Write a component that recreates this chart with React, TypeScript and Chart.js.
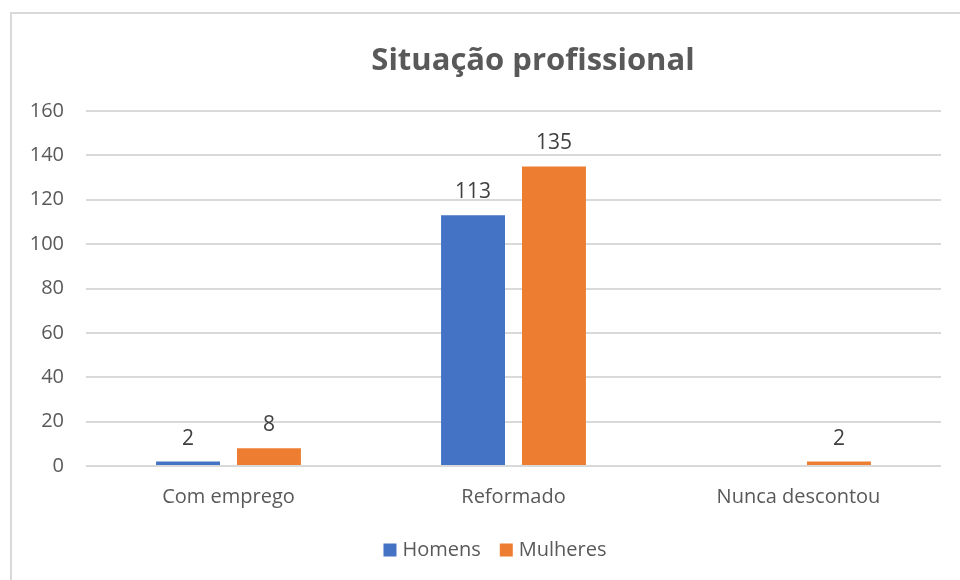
import React, { useEffect, useRef } from "react";
import { Chart, registerables } from "chart.js";

Chart.register(...registerables);

const categories = ["Com emprego", "Reformado", "Nunca descontou"];
const homens: (number | null)[] = [2, 113, null];
const mulheres: (number | null)[] = [8, 135, 2];
const seriesNames = ["Homens", "Mulheres"];
const seriesColors = ["#4472C4", "#ED7D31"];
const chartTitle = "Situação profissional";
const yMin = 0;
const yMax = 160;
const yStep = 20;

const FONT = "'Open Sans', 'Noto Sans', sans-serif";
const TEXT = "#595959";

const framePlugin = {
  id: "frame",
  beforeDraw(chart: any) {
    const ctx = chart.ctx;
    ctx.save();
    ctx.fillStyle = "#ffffff";
    ctx.fillRect(0, 0, chart.width, chart.height);
    ctx.strokeStyle = "#d9d9d9";
    ctx.lineWidth = 2;
    ctx.strokeRect(11, 13, chart.width + 20, chart.height + 20);
    ctx.font = `bold 31px ${FONT}`;
    ctx.fillStyle = TEXT;
    ctx.textAlign = "center";
    ctx.textBaseline = "alphabetic";
    ctx.fillText(chartTitle, 533, 70);
    ctx.restore();
  },
};

const legendPlugin = {
  id: "customLegend",
  afterDraw(chart: any) {
    const ctx = chart.ctx;
    ctx.save();
    ctx.font = `20px ${FONT}`;
    ctx.textBaseline = "middle";
    ctx.textAlign = "left";
    const box = 13;
    const gap = 6;
    const spacing = 19;
    const widths = chart.data.datasets.map(
      (ds: any) => box + gap + ctx.measureText(ds.label).width
    );
    const total =
      widths.reduce((a: number, b: number) => a + b, 0) + spacing * (widths.length - 1);
    let x = 495 - total / 2;
    const cy = 550;
    chart.data.datasets.forEach((ds: any, i: number) => {
      ctx.fillStyle = ds.backgroundColor;
      ctx.fillRect(x, cy - box / 2, box, box);
      ctx.fillStyle = TEXT;
      ctx.fillText(ds.label, x + box + gap, cy);
      x += widths[i] + spacing;
    });
    ctx.restore();
  },
};

const labelPlugin = {
  id: "barLabels",
  afterDatasetsDraw(chart: any) {
    const ctx = chart.ctx;
    ctx.save();
    ctx.font = `21px ${FONT}`;
    ctx.fillStyle = "#404040";
    ctx.textAlign = "center";
    ctx.textBaseline = "alphabetic";
    chart.data.datasets.forEach((ds: any, i: number) => {
      const meta = chart.getDatasetMeta(i);
      meta.data.forEach((bar: any, j: number) => {
        const v = ds.data[j];
        if (v === null || v === undefined) return;
        ctx.fillText(String(v), bar.x, bar.y - 17);
      });
    });
    ctx.restore();
  },
};

export default function App() {
  const ref = useRef<HTMLCanvasElement | null>(null);
  useEffect(() => {
    if (!ref.current) return;
    const chart = new Chart(ref.current, {
      type: "bar",
      data: {
        labels: categories,
        datasets: [
          {
            label: seriesNames[0],
            data: homens,
            backgroundColor: seriesColors[0],
            categoryPercentage: 0.568,
            barPercentage: 0.79,
          },
          {
            label: seriesNames[1],
            data: mulheres,
            backgroundColor: seriesColors[1],
            categoryPercentage: 0.568,
            barPercentage: 0.79,
          },
        ],
      },
      options: {
        responsive: false,
        animation: false,
        layout: { padding: { left: 0, right: 19, top: 111, bottom: 71 } },
        plugins: {
          title: { display: false },
          legend: { display: false },
          tooltip: { enabled: false },
        },
        scales: {
          x: {
            afterFit(scale: any) {
              scale.height = 43;
            },
            grid: { display: false, drawTicks: false },
            border: { display: false },
            ticks: { color: TEXT, font: { family: FONT, size: 20 }, padding: 19 },
          },
          y: {
            min: yMin,
            max: yMax,
            afterFit(scale: any) {
              scale.width = 86;
            },
            grid: { color: "#d9d9d9", lineWidth: 2, drawTicks: false },
            border: { display: false },
            ticks: {
              stepSize: yStep,
              color: TEXT,
              font: { family: FONT, size: 20 },
              padding: 22,
            },
          },
        },
      },
      plugins: [framePlugin, labelPlugin, legendPlugin],
    });
    return () => chart.destroy();
  }, []);
  return (
    <div style={{ position: "absolute", left: 0, top: 0, width: 960, height: 580 }}>
      <canvas ref={ref} width={960} height={580} />
    </div>
  );
}
